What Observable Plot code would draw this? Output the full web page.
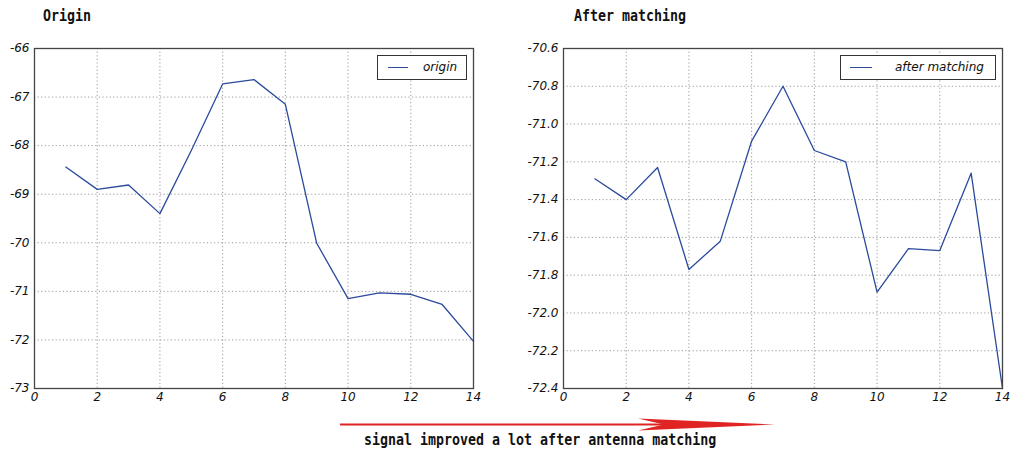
<!DOCTYPE html>
<html>
<head>
<meta charset="utf-8">
<script src="https://cdn.jsdelivr.net/npm/d3@7"></script>
<script src="https://cdn.jsdelivr.net/npm/@observablehq/plot@0.6"></script>
<style>
  html, body { margin: 0; padding: 0; background: #fff; }
  #root { position: relative; width: 1010px; height: 455px; overflow: hidden; }
  .panel { position: absolute; top: 0; }
  .title { position: absolute; font-family: "DejaVu Sans Mono", monospace; font-weight: bold; font-size: 13.3px; color: #111; white-space: nowrap; transform: scaleY(1.18); transform-origin: 0 0; }
  .legend { position: absolute; border: 1.2px solid #333; background: #fff; box-sizing: border-box;
            font-family: "DejaVu Sans", sans-serif; font-style: italic; font-size: 12px; color: #111; }
  .legend .sw { position: absolute; height: 0; border-top: 1.4px solid #2b4a9c; }
  .legend .lt { position: absolute; white-space: nowrap; line-height: 14px; }
  #caption { position: absolute; left: 364px; top: 431px; font-family: "DejaVu Sans Mono", monospace; font-weight: bold; font-size: 13.3px; color: #111; white-space: nowrap; transform: scaleY(1.15); transform-origin: 0 0; }
  #arrow { position: absolute; left: 0; top: 0; }
</style>
</head>
<body>
<div id="root"></div>
<script>
// ---- data ----
const xs = [1, 2, 3, 4, 5, 6, 7, 8, 9, 10, 11, 12, 13, 14];
const origin = [-68.44, -68.90, -68.81, -69.40, -68.10, -66.73, -66.64, -67.15, -70.01, -71.15, -71.03, -71.06, -71.27, -72.03];
const afterMatching = [-71.29, -71.40, -71.23, -71.77, -71.62, -71.09, -70.80, -71.14, -71.20, -71.89, -71.66, -71.67, -71.26, -72.40];
const xTicks = [0, 2, 4, 6, 8, 10, 12, 14];
const yTicksLeft = [-73, -72, -71, -70, -69, -68, -67, -66];
const yTicksRight = [-72.4, -72.2, -72.0, -71.8, -71.6, -71.4, -71.2, -71.0, -70.8, -70.6];
const titles = ["Origin", "After matching"];
const seriesNames = ["origin", "after matching"];
const caption = "signal improved a lot after antenna matching";

const lineColor = "#2b4a9c";
const root = document.getElementById("root");

function makePanel({values, yTicks, yDomain, yFormat, width, left, marginLeft, marginRight}) {
  const data = xs.map((x, i) => ({x, y: values[i]}));
  const chart = Plot.plot({
    width, height: 410,
    marginLeft, marginRight, marginTop: 48, marginBottom: 22,
    style: {fontFamily: "DejaVu Sans, sans-serif", fontSize: "12px", fontStyle: "italic", color: "#111", background: "transparent", overflow: "visible"},
    x: {domain: [0, 14], ticks: xTicks, tickSize: 0, tickPadding: 4, label: null},
    y: {domain: yDomain, ticks: yTicks, tickSize: 0, tickPadding: 5, label: null, tickFormat: yFormat},
    marks: [
      Plot.ruleX(xTicks, {stroke: "#9a9a9a", strokeDasharray: "1.2,2.4", strokeWidth: 1}),
      Plot.ruleY(yTicks, {stroke: "#9a9a9a", strokeDasharray: "1.2,2.4", strokeWidth: 1}),
      Plot.line(data, {x: "x", y: "y", stroke: lineColor, strokeWidth: 1.3}),
      Plot.frame({stroke: "#444", strokeWidth: 1.3})
    ]
  });
  const div = document.createElement("div");
  div.className = "panel";
  div.style.left = left + "px";
  div.appendChild(chart);
  root.appendChild(div);
}

makePanel({values: origin, yTicks: yTicksLeft, yDomain: [-73, -66], yFormat: d => String(d),
  width: 500, left: 0, marginLeft: 34, marginRight: 27});
makePanel({values: afterMatching, yTicks: yTicksRight, yDomain: [-72.4, -70.6], yFormat: d => d.toFixed(1),
  width: 510, left: 500, marginLeft: 63, marginRight: 8});

// titles
[[titles[0], 43], [titles[1], 574]].forEach(([t, x]) => {
  const d = document.createElement("div");
  d.className = "title"; d.textContent = t;
  d.style.left = x + "px"; d.style.top = "7px";
  root.appendChild(d);
});

// legends
function legend(name, box, sw, tx) {
  const d = document.createElement("div");
  d.className = "legend";
  d.style.left = box[0] + "px"; d.style.top = box[1] + "px";
  d.style.width = box[2] + "px"; d.style.height = box[3] + "px";
  const s = document.createElement("div");
  s.className = "sw"; s.style.left = sw[0] + "px"; s.style.width = sw[1] + "px"; s.style.top = "11px";
  const t = document.createElement("div");
  t.className = "lt"; t.textContent = name; t.style.left = tx + "px"; t.style.top = "4px";
  d.appendChild(s); d.appendChild(t);
  root.appendChild(d);
}
legend(seriesNames[0], [377, 55, 90, 25], [10, 20], 45);
legend(seriesNames[1], [840, 55, 156, 25], [9, 22], 54);

// red arrow annotation
const ns = "http://www.w3.org/2000/svg";
const svg = document.createElementNS(ns, "svg");
svg.setAttribute("id", "arrow");
svg.setAttribute("width", 1010); svg.setAttribute("height", 455);
svg.innerHTML = '<line x1="340" y1="424.5" x2="664" y2="424.5" stroke="#e02424" stroke-width="2"/>' +
  '<polygon points="638,418.5 775,424.5 638,430.5 664,424.5" fill="#e02424"/>';
root.appendChild(svg);

const cap = document.createElement("div");
cap.id = "caption"; cap.textContent = caption;
root.appendChild(cap);
</script>
</body>
</html>
